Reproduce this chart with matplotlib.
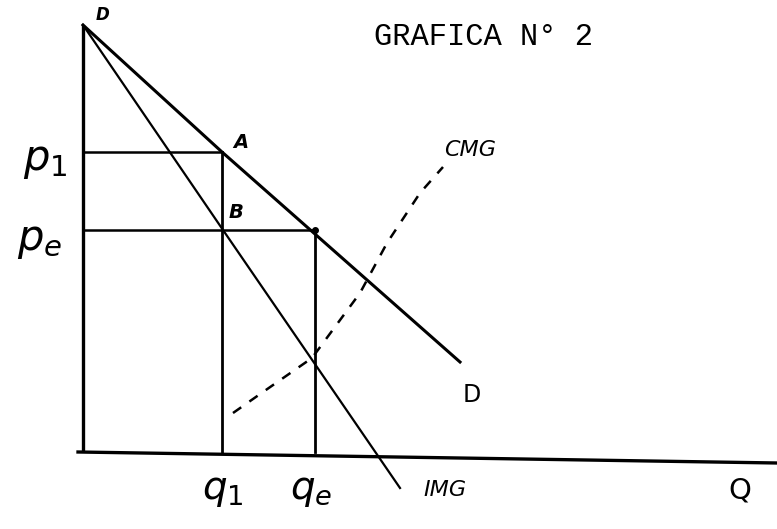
import numpy as np
import matplotlib.pyplot as plt

# hand-drawn monopoly diagram, units roughly in pixels from the origin
q_axis = [-5, 694]
q_axis_y = [0, -11]
p_top = 427

demand_q = [0, 139, 377]
demand_p = [427, 300, 90]

img_q = [0, 140, 317]
img_p = [427, 222, -36]

cmg_q = [150, 180, 229, 277, 304, 337, 360]
cmg_c = [39, 60, 94, 159, 209, 259, 285]

q1, qe = 139, 232
p1, pe = 300, 222


def main():
    fig = plt.figure(figsize=(7.77, 5.29), dpi=100)
    ax = fig.add_axes([0, 0, 1, 1])
    ax.set_xlim(-83, 694)
    ax.set_ylim(-77, 452)
    ax.axis("off")

    k = "black"
    # axes
    ax.plot([0, 0], [0, p_top], color=k, lw=2.4, solid_capstyle="butt")
    ax.plot(q_axis, q_axis_y, color=k, lw=2.4)

    # demand and marginal revenue
    ax.plot(demand_q, demand_p, color=k, lw=2.2)
    ax.plot(img_q, img_p, color=k, lw=1.6)

    # price / quantity guides
    ax.plot([0, q1], [p1, p1], color=k, lw=1.8)
    ax.plot([q1, q1], [p1, 0], color=k, lw=2.0)
    ax.plot([0, qe], [pe, pe], color=k, lw=1.8)
    ax.plot([qe, qe], [pe, 0], color=k, lw=2.0)
    ax.plot([qe], [pe], "o", color=k, ms=4)

    # marginal cost
    ax.plot(cmg_q, cmg_c, color=k, lw=1.8, ls=(0, (4, 4)))

    hand = dict(color=k, family="DejaVu Sans", style="italic", weight="bold")
    ax.text(20, 437, "D", fontsize=12, ha="center", va="center", **hand)
    ax.text(158, 310, "A", fontsize=14, ha="center", va="center", **hand)
    ax.text(153, 240, "B", fontsize=14, ha="center", va="center", **hand)
    ax.text(389, 57, "D", fontsize=17, ha="center", va="center", color=k)
    ax.text(387, 302, "CMG", fontsize=16, ha="center", va="center",
            color=k, family="DejaVu Sans", style="italic")
    ax.text(362, -38, "IMG", fontsize=16, ha="center", va="center",
            color=k, family="DejaVu Sans", style="italic")
    ax.text(657, -38, "Q", fontsize=21, ha="center", va="center", color=k)
    ax.text(-38, 292, "$p_1$", fontsize=30, ha="center", va="center", color=k)
    ax.text(-43, 212, "$p_e$", fontsize=30, ha="center", va="center", color=k)
    ax.text(140, -38, "$q_1$", fontsize=28, ha="center", va="center", color=k)
    ax.text(228, -38, "$q_e$", fontsize=28, ha="center", va="center", color=k)

    ax.text(401, 415, "GRAFICA N° 2", fontsize=22, family="Liberation Mono",
            ha="center", va="center", color=k)

    fig.savefig("out.png", dpi=100)


if __name__ == "__main__":
    main()
